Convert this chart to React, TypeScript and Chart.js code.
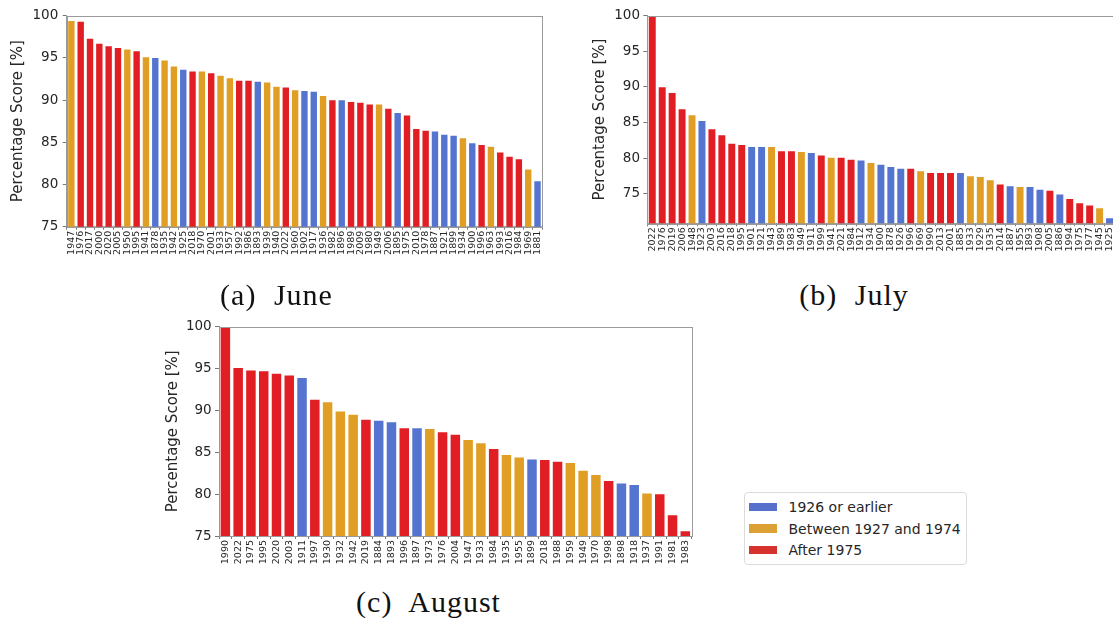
import React, { useEffect, useRef } from 'react';
import { Chart, registerables } from 'chart.js';

Chart.register(...registerables);

// Monthly rankings: years sorted by percentage score
const JUNE_YEARS = [
  1947, 1976, 2017, 2000, 2020, 2005, 1950, 1995, 1941, 1878, 1935, 1942, 1925,
  2018, 1970, 2001, 1933, 1957, 1992, 1986, 1893, 1939, 1940, 2022, 1960, 1902,
  1917, 1936, 1982, 1896, 1989, 2009, 1980, 1949, 2006, 1895, 1975, 2010, 1978,
  1887, 1921, 1899, 1934, 1900, 1996, 1963, 1993, 2016, 1984, 1969, 1881,
];
const JUNE_SCORES = [
  99.5, 99.4, 97.4, 96.8, 96.5, 96.3, 96.1, 95.9, 95.2, 95.1, 94.8, 94.1, 93.7,
  93.5, 93.5, 93.3, 93.0, 92.7, 92.4, 92.4, 92.3, 92.2, 91.7, 91.6, 91.3, 91.2,
  91.1, 90.6, 90.1, 90.1, 89.9, 89.8, 89.6, 89.6, 89.1, 88.6, 88.3, 86.7, 86.5,
  86.4, 86.0, 85.9, 85.6, 85.0, 84.8, 84.6, 83.9, 83.4, 83.1, 81.9, 80.5,
];

const JULY_YEARS = [
  2022, 1976, 2019, 2006, 1948, 1923, 2003, 2016, 2018, 1995, 1901, 1921, 1943,
  1989, 1983, 1949, 1911, 1999, 1941, 2021, 1984, 1912, 1934, 1900, 1878, 1926,
  1996, 1969, 1990, 2013, 2001, 1885, 1933, 1929, 1935, 2014, 1887, 1955, 1893,
  1908, 2005, 1886, 1994, 1975, 1977, 1945, 1925,
];
const JULY_SCORES = [
  100.0, 90.1, 89.3, 87.0, 86.15, 85.35, 84.2, 83.35, 82.15, 82.0, 81.7, 81.7, 81.7,
  81.1, 81.1, 81.0, 80.85, 80.5, 80.2, 80.2, 79.9, 79.8, 79.45, 79.2, 78.9, 78.65,
  78.65, 78.3, 78.05, 78.05, 78.05, 78.05, 77.6, 77.5, 77.05, 76.45, 76.2, 76.1, 76.1,
  75.7, 75.55, 75.05, 74.4, 73.8, 73.5, 73.1, 71.7,
];

const AUGUST_YEARS = [
  1990, 2022, 1975, 1995, 2020, 2003, 1911, 1997, 1930, 1932, 1942, 2019, 1884,
  1893, 1996, 1897, 1973, 1976, 2004, 1947, 1933, 1984, 1935, 1955, 1899, 2018,
  1988, 1959, 1949, 1970, 1998, 1898, 1918, 1937, 1991, 1981, 1983,
];
const AUGUST_SCORES = [
  100.0, 95.2, 94.9, 94.8, 94.5, 94.3, 94.0, 91.4, 91.1, 90.0, 89.6, 89.0, 88.9,
  88.7, 88.0, 88.0, 87.9, 87.5, 87.2, 86.6, 86.2, 85.5, 84.8, 84.5, 84.25, 84.2,
  84.0, 83.85, 82.9, 82.4, 81.7, 81.4, 81.2, 80.2, 80.1, 77.6, 75.7,
];

const Y_TICKS = [75, 80, 85, 90, 95, 100];
const Y_MIN_JUNE = 75;
const Y_MIN_JULY = 70.85;
const Y_MIN_AUGUST = 75;

const GROUP_LABELS = ['1926 or earlier', 'Between 1927 and 1974', 'After 1975'];
const BAR_COLORS = ['rgb(84,116,207)', 'rgb(224,158,36)', 'rgb(224,30,36)'];
const KEY_COLORS = ['rgb(86,112,204)', 'rgb(221,160,52)', 'rgb(214,50,46)'];

const FONT = "'DejaVu Sans', sans-serif";
const SPINE = '#9a9a9a';
const TEXT = '#262626';

function groupOf(year: number): number {
  if (year <= 1926) return 0;
  if (year <= 1974) return 1;
  return 2;
}

type Geo = {
  left: number;
  top: number;
  width: number;
  height: number;
  padTop: number;
  padRight: number;
  yWidth: number;
  xHeight: number;
  titlePad: number;
  tickPad: number;
};

const framePlugin = {
  id: 'frame',
  afterDraw(chart: any) {
    const { ctx, chartArea } = chart;
    ctx.save();
    ctx.strokeStyle = SPINE;
    ctx.lineWidth = 1;
    ctx.strokeRect(
      Math.round(chartArea.left) + 0.5,
      Math.round(chartArea.top) + 0.5,
      Math.round(chartArea.right - chartArea.left),
      Math.round(chartArea.bottom - chartArea.top)
    );
    ctx.restore();
  },
};

function makeConfig(years: number[], scores: number[], yMin: number, geo: Geo): any {
  return {
    type: 'bar',
    data: {
      labels: years.map(String),
      datasets: [
        {
          data: scores,
          backgroundColor: years.map((y) => BAR_COLORS[groupOf(y)]),
          borderColor: 'rgba(255,255,255,0.45)',
          borderWidth: 1,
          categoryPercentage: 1,
          barPercentage: 0.9,
        },
      ],
    },
    options: {
      responsive: false,
      maintainAspectRatio: false,
      animation: false,
      layout: { padding: { top: geo.padTop, right: geo.padRight, left: 0, bottom: 0 } },
      plugins: { legend: { display: false }, tooltip: { enabled: false } },
      scales: {
        x: {
          offset: true,
          grid: { display: true, drawOnChartArea: false, drawTicks: true, tickLength: 3, color: '#777' },
          border: { display: true, color: SPINE },
          ticks: {
            autoSkip: false,
            minRotation: 90,
            maxRotation: 90,
            padding: 1,
            color: TEXT,
            font: { family: FONT, size: 9.5 },
          },
          afterFit: (s: any) => {
            s.height = geo.xHeight;
          },
        },
        y: {
          min: yMin,
          max: 100,
          afterBuildTicks: (s: any) => {
            s.ticks = Y_TICKS.map((v) => ({ value: v }));
          },
          grid: { display: true, drawOnChartArea: false, drawTicks: true, tickLength: 4, color: '#777' },
          border: { display: true, color: SPINE },
          ticks: {
            padding: geo.tickPad,
            color: TEXT,
            font: { family: FONT, size: 13.5 },
          },
          title: {
            display: true,
            text: 'Percentage Score [%]',
            color: TEXT,
            font: { family: FONT, size: 15, lineHeight: 1.2 },
            padding: { top: geo.titlePad, bottom: 0 },
          },
          afterFit: (s: any) => {
            s.width = geo.yWidth;
          },
        },
      },
    },
    plugins: [framePlugin],
  };
}

function BarPanel(props: { years: number[]; scores: number[]; yMin: number; geo: Geo }) {
  const ref = useRef<HTMLCanvasElement | null>(null);
  const { years, scores, yMin, geo } = props;
  useEffect(() => {
    if (!ref.current) return;
    const chart = new Chart(ref.current, makeConfig(years, scores, yMin, geo));
    return () => chart.destroy();
  }, []);
  return (
    <canvas
      ref={ref}
      width={geo.width}
      height={geo.height}
      style={{ position: 'absolute', left: geo.left, top: geo.top, width: geo.width, height: geo.height }}
    />
  );
}

const GEO_JUNE: Geo = {
  left: 0, top: 0, width: 550, height: 270,
  padTop: 15.7, padRight: 7.7, yWidth: 66.7, xHeight: 43.3, titlePad: 9.3, tickPad: 4.4,
};
const GEO_JULY: Geo = {
  left: 590, top: 0, width: 532, height: 270,
  padTop: 15.7, padRight: 6.1, yWidth: 57.3, xHeight: 46.7, titlePad: 1, tickPad: 3.3,
};
const GEO_AUGUST: Geo = {
  left: 150, top: 310, width: 550, height: 270,
  padTop: 16.7, padRight: 8.3, yWidth: 69, xHeight: 44, titlePad: 14.3, tickPad: 3.3,
};

function Caption(props: { text: string; cx: number; cy: number }) {
  return (
    <div
      style={{
        position: 'absolute',
        left: props.cx,
        top: props.cy - 15,
        transform: 'translateX(-50%)',
        fontFamily: "'Liberation Serif', serif",
        fontSize: 30,
        lineHeight: '30px',
        letterSpacing: 1,
        wordSpacing: 9,
        whiteSpace: 'nowrap',
        color: '#111',
      }}
    >
      {props.text}
    </div>
  );
}

function Legend() {
  return (
    <div
      style={{
        position: 'absolute',
        left: 744,
        top: 492,
        width: 221,
        height: 71,
        border: '1px solid #dcdcdc',
        borderRadius: 4,
        background: '#fff',
        fontFamily: FONT,
        fontSize: 14,
        color: TEXT,
      }}
    >
      {GROUP_LABELS.map((label, i) => (
        <div key={label} style={{ position: 'absolute', left: 0, top: 4 + i * 21.7, height: 20, width: '100%' }}>
          <div
            style={{
              position: 'absolute',
              left: 3.5,
              top: 5.5,
              width: 28,
              height: 8.5,
              background: KEY_COLORS[i],
            }}
          />
          <div style={{ position: 'absolute', left: 43.5, top: 0, lineHeight: '20px', whiteSpace: 'nowrap' }}>
            {label}
          </div>
        </div>
      ))}
    </div>
  );
}

export default function App() {
  return (
    <div
      style={{
        position: 'absolute',
        left: 0,
        top: 0,
        width: 1113,
        height: 622,
        overflow: 'hidden',
        background: '#fff',
      }}
    >
      <BarPanel years={JUNE_YEARS} scores={JUNE_SCORES} yMin={Y_MIN_JUNE} geo={GEO_JUNE} />
      <BarPanel years={JULY_YEARS} scores={JULY_SCORES} yMin={Y_MIN_JULY} geo={GEO_JULY} />
      <BarPanel years={AUGUST_YEARS} scores={AUGUST_SCORES} yMin={Y_MIN_AUGUST} geo={GEO_AUGUST} />
      <Caption text="(a) June" cx={276.5} cy={295} />
      <Caption text="(b) July" cx={854} cy={295} />
      <Caption text="(c) August" cx={428.5} cy={602} />
      <Legend />
    </div>
  );
}
